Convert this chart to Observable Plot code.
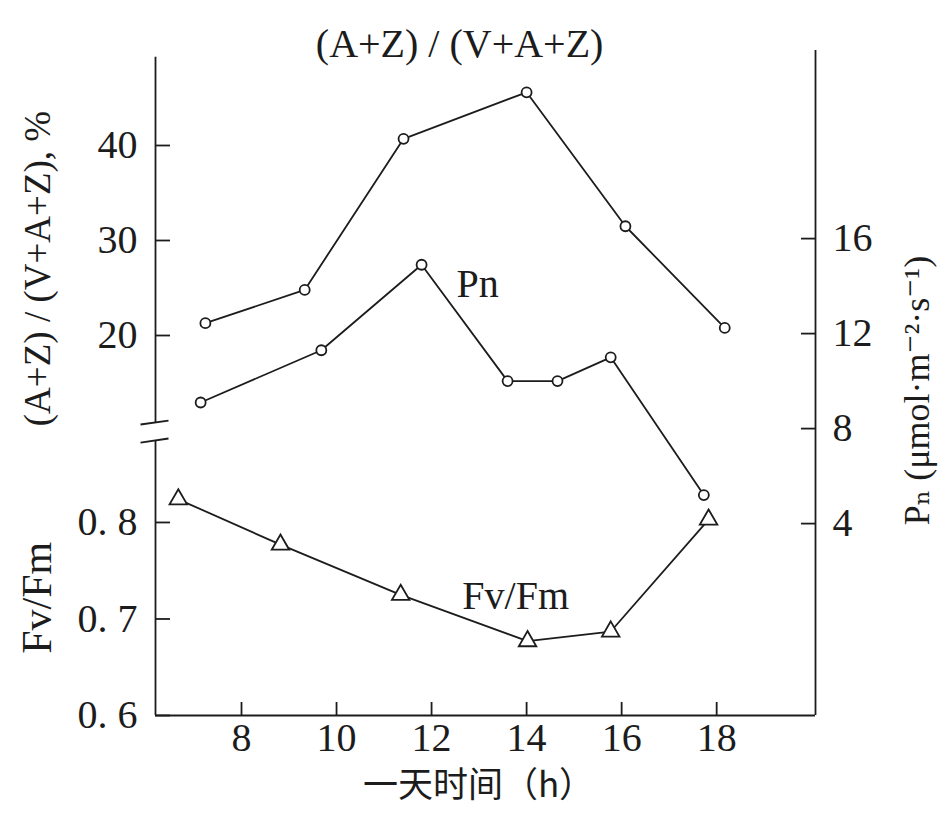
<!DOCTYPE html>
<html>
<head>
<meta charset="utf-8">
<script src="https://cdn.jsdelivr.net/npm/d3@7"></script>
<script src="https://cdn.jsdelivr.net/npm/@observablehq/plot@0.6"></script>
<style>
  html, body { margin: 0; padding: 0; background: #fff; }
  #chart { position: relative; width: 939px; height: 813px; background: #fff; overflow: hidden; }
</style>
</head>
<body>
<div id="chart"></div>
<script>
// ---- data ----
const azHours  = [7.24, 9.33, 11.41, 14.0, 16.08, 18.17];
const azValues = [21.3, 24.8, 40.7, 45.6, 31.5, 20.8];          // (A+Z)/(V+A+Z), %
const pnHours  = [7.14, 9.68, 11.79, 13.6, 14.65, 15.77, 17.73];
const pnValues = [9.1, 11.3, 14.9, 10.0, 10.0, 11.0, 5.2];      // Pn, µmol·m-2·s-1
const fvHours  = [6.67, 8.82, 11.35, 14.02, 15.77, 17.83];
const fvValues = [0.824, 0.777, 0.725, 0.677, 0.687, 0.803];    // Fv/Fm

const xTicks = [8, 10, 12, 14, 16, 18];
const azTicks = [20, 30, 40];
const pnTicks = [4, 8, 12, 16];
const fvTicks = [0.6, 0.7, 0.8];
const fvTickLabels = ["0. 6", "0. 7", "0. 8"];

const topLabel = "(A+Z) / (V+A+Z)";
const azAxisLabel = "(A+Z) / (V+A+Z), %";
const fvAxisLabel = "Fv/Fm";
const pnAxisLabel = "Pₙ (μmol·m⁻²·s⁻¹)";
const xAxisLabel = "一天时间（h）";
const pnSeriesLabel = "Pn";
const fvSeriesLabel = "Fv/Fm";

// ---- layout / scales ----
const W = 939, H = 813;
const xDomain = [6.19, 20.08];
const fvDomain = [0.6, 1.289];
const azDomain = [-20, 50];
const pnDomain = [-4.08, 23.92];
const azAxisExtent = [10.84, 49.3];
const fvAxisExtent = [0.6, 0.884];
const axisBreak = [
  {x1: 5.874, x2: 6.464, y1: 0.9015, y2: 0.9056},
  {x1: 5.874, x2: 6.464, y1: 0.8828, y2: 0.8870}
];

const serif = "'Liberation Serif', 'DejaVu Serif', serif";
const cjk = "'Noto Sans CJK SC', sans-serif";
const ink = "#1c1c1c";
const lw = 1.8;
const base = {width: W, height: H, marginLeft: 155, marginRight: 124, marginTop: 50, marginBottom: 98};
const styleFor = (bg) => ({position: "absolute", left: "0px", top: "0px", background: bg,
  fontFamily: serif, fontSize: "40px", color: ink, overflow: "visible"});

// Lower panel: Fv/Fm + x axis
const plotFv = Plot.plot({
  ...base,
  style: styleFor("white"),
  x: {domain: xDomain},
  y: {domain: fvDomain},
  marks: [
    Plot.ruleY([fvTicks[0]], {stroke: ink, strokeWidth: lw}),
    Plot.ruleX([xDomain[0]], {y1: fvAxisExtent[0], y2: fvAxisExtent[1], stroke: ink, strokeWidth: lw}),
    Plot.link(axisBreak, {x1: "x1", x2: "x2", y1: "y1", y2: "y2", stroke: ink, strokeWidth: lw}),
    Plot.axisX({ticks: xTicks, tickSize: -13, tickPadding: 20, color: ink, strokeWidth: lw,
      fontSize: 40, fontFamily: serif, label: null}),
    Plot.axisY({anchor: "left", ticks: fvTicks, tickFormat: d => fvTickLabels[fvTicks.indexOf(d)],
      tickSize: -15, tickPadding: 33, color: ink, strokeWidth: lw, fontSize: 40, fontFamily: serif, label: null}),
    Plot.line(fvValues, {x: fvHours, y: fvValues, stroke: ink, strokeWidth: lw}),
    Plot.dot(fvValues, {x: fvHours, y: fvValues, symbol: "triangle", r: 6.5, fill: "white", stroke: ink, strokeWidth: lw}),
    Plot.text([0.722], {y: d => d, text: () => fvAxisLabel, frameAnchor: "left", textAnchor: "middle",
      dx: -118, rotate: -90, fontSize: 42, fontFamily: serif, fill: ink}),
    Plot.text([13.77], {x: d => d, y: () => 0.724, text: () => fvSeriesLabel, fontSize: 40, fontFamily: serif, fill: ink}),
    Plot.text([xAxisLabel], {text: d => d, frameAnchor: "bottom", textAnchor: "middle", dx: -7, dy: 81,
      fontSize: 35, fontFamily: cjk, fill: ink})
  ]
});

// Upper panel: (A+Z)/(V+A+Z)
const plotAz = Plot.plot({
  ...base,
  style: styleFor("transparent"),
  x: {domain: xDomain, axis: null},
  y: {domain: azDomain},
  marks: [
    Plot.ruleX([xDomain[0]], {y1: azAxisExtent[0], y2: azAxisExtent[1], stroke: ink, strokeWidth: lw}),
    Plot.axisY({anchor: "left", ticks: azTicks, tickSize: -15, tickPadding: 33, color: ink, strokeWidth: lw,
      fontSize: 40, fontFamily: serif, label: null}),
    Plot.line(azValues, {x: azHours, y: azValues, stroke: ink, strokeWidth: lw}),
    Plot.dot(azValues, {x: azHours, y: azValues, r: 5, fill: "white", stroke: ink, strokeWidth: lw}),
    Plot.text([12.59], {x: d => d, y: () => 50.7, text: () => topLabel, fontSize: 40, fontFamily: serif, fill: ink}),
    Plot.text([27.05], {y: d => d, text: () => azAxisLabel, frameAnchor: "left", textAnchor: "middle",
      dx: -117, rotate: -90, fontSize: 37, fontFamily: serif, fill: ink})
  ]
});

// Pn on right axis
const plotPn = Plot.plot({
  ...base,
  style: styleFor("transparent"),
  x: {domain: xDomain, axis: null},
  y: {domain: pnDomain},
  marks: [
    Plot.ruleX([xDomain[1]], {stroke: ink, strokeWidth: lw}),
    Plot.axisY({anchor: "right", ticks: pnTicks, tickSize: -15, tickPadding: 32, color: ink, strokeWidth: lw,
      fontSize: 40, fontFamily: serif, label: null}),
    Plot.line(pnValues, {x: pnHours, y: pnValues, stroke: ink, strokeWidth: lw}),
    Plot.dot(pnValues, {x: pnHours, y: pnValues, r: 5, fill: "white", stroke: ink, strokeWidth: lw}),
    Plot.text([12.97], {x: d => d, y: () => 14.1, text: () => pnSeriesLabel, fontSize: 40, fontFamily: serif, fill: ink}),
    Plot.text([9.6], {y: d => d, text: () => pnAxisLabel, frameAnchor: "right", textAnchor: "middle",
      dx: 102, rotate: -90, fontSize: 36, fontFamily: serif, fill: ink})
  ]
});

const chart = document.getElementById("chart");
chart.append(plotFv, plotAz, plotPn);
</script>
</body>
</html>
